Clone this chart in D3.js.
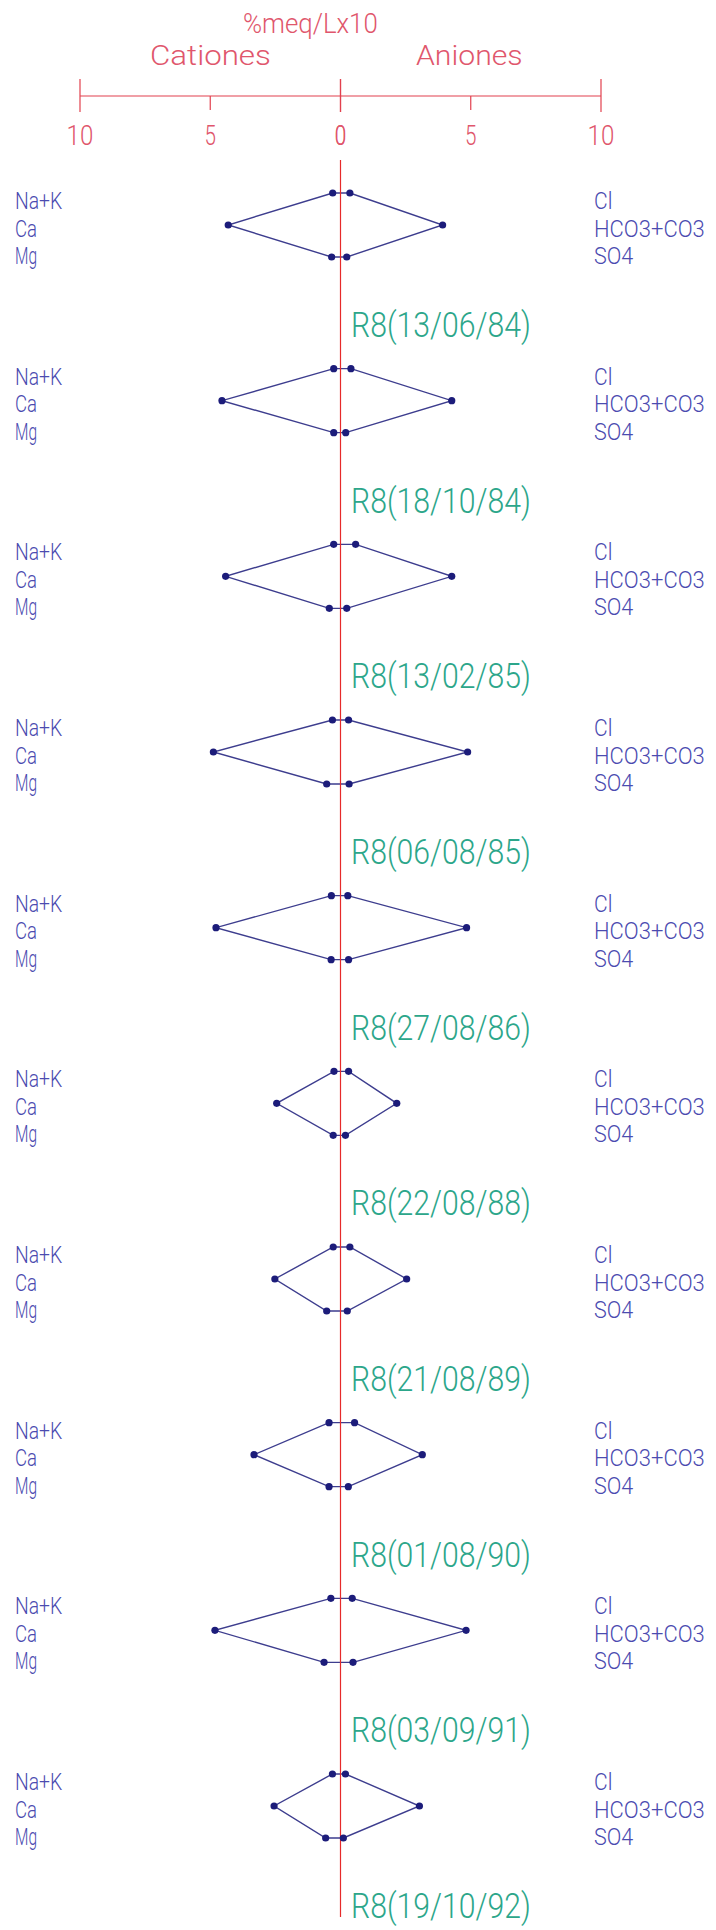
<!DOCTYPE html>
<html>
<head>
<meta charset="utf-8">
<script src="https://cdn.jsdelivr.net/npm/d3@7"></script>
<style>
  html, body { margin: 0; padding: 0; background: #fff; }
  text { font-family: Roboto, "DejaVu Sans", sans-serif; font-weight: 300; }
</style>
</head>
<body>
<div id="stiff"></div>
<script>
// samples, one stiff diagram each (label goes below its diagram)
var samples = ["R8(13/06/84)", "R8(18/10/84)", "R8(13/02/85)", "R8(06/08/85)", "R8(27/08/86)",
               "R8(22/08/88)", "R8(21/08/89)", "R8(01/08/90)", "R8(03/09/91)", "R8(19/10/92)"];

var cationNames = ["Na+K", "Ca", "Mg"];
var anionNames = ["Cl", "HCO3+CO3", "SO4"];

// %meq/L x10
var naK  = [0.30, 0.26, 0.26, 0.31, 0.35, 0.25, 0.28, 0.44, 0.37, 0.31];
var ca   = [4.31, 4.55, 4.41, 4.88, 4.78, 2.45, 2.52, 3.32, 4.82, 2.55];
var mg   = [0.34, 0.26, 0.43, 0.53, 0.36, 0.28, 0.53, 0.44, 0.63, 0.57];
var cl   = [0.36, 0.40, 0.58, 0.31, 0.28, 0.31, 0.36, 0.54, 0.45, 0.19];
var hco3 = [3.92, 4.27, 4.27, 4.88, 4.84, 2.16, 2.54, 3.14, 4.82, 3.03];
var so4  = [0.24, 0.20, 0.24, 0.33, 0.31, 0.19, 0.26, 0.30, 0.48, 0.11];

var axisTicks = [0, 5, 10];

document.addEventListener('DOMContentLoaded', function() {
    drawStiff()
}, false);

// plotter lettering: fixed pitch, so squeeze each string to n chars
function plotText(g, str, x, y, size, pitch, color, anchor) {
    return g.append("text")
      .attr("x", x)
      .attr("y", y)
      .attr("font-size", size)
      .attr("fill", color)
      .attr("text-anchor", anchor || "start")
      .attr("textLength", str.length * pitch - pitch * 0.25)
      .attr("lengthAdjust", "spacingAndGlyphs")
      .text(str);
}

function drawStiff() {
    var width = 716, height = 1930;
    var axisRed = "#e2404e", textRed = "#e0566c";
    var blue = "#4b4bb0", lineBlue = "#3d3d8e", dotBlue = "#1c1c7a", green = "#2ca68a";

    var svg = d3.select("#stiff")
      .append("svg")
        .attr("width", width)
        .attr("height", height);

    // x: cations to the left, anions to the right
    var x0 = 340.5;
    var xCat = d3.scaleLinear().domain([0, 10]).range([x0, 80]);
    var xAn = d3.scaleLinear().domain([0, 10]).range([x0, 601]);

    // y: one band per sample, three ion rows inside it
    var yTop = d3.scalePoint().domain(samples).range([193, 1774]);
    var yRow = d3.scalePoint().domain([0, 1, 2]).range([0, 64]);

    // top scale
    var axisY = 96;
    var top = svg.append("g");
    plotText(top, "%meq/Lx10", 243, 33, 28, 15.4, textRed);
    plotText(top, "Cationes", 150, 65, 28, 15.6, textRed);
    plotText(top, "Aniones", 416, 65, 28, 15.8, textRed);

    top.append("line")
      .attr("x1", xCat(10)).attr("x2", xAn(10))
      .attr("y1", axisY).attr("y2", axisY)
      .attr("stroke", axisRed).attr("stroke-width", 1.2);

    [xCat, xAn].forEach(function(sc) {
        axisTicks.forEach(function(t) {
            var big = (t !== 5);
            top.append("line")
              .attr("x1", sc(t)).attr("x2", sc(t))
              .attr("y1", big ? 79 : axisY).attr("y2", big ? 112 : 110)
              .attr("stroke", axisRed).attr("stroke-width", 1.2);
            plotText(top, String(t), sc(t), 145, 27, 15.3, textRed, "middle");
        });
    });

    var polys = svg.append("g");

    var line = d3.line()
      .x(function(d) { return d[0]; })
      .y(function(d) { return d[1]; })
      .curve(d3.curveLinearClosed);

    samples.forEach(function(s, i) {
        var t = yTop(s);
        var pts = [
          [xCat(naK[i]), t + yRow(0)],
          [xAn(cl[i]), t + yRow(0)],
          [xAn(hco3[i]), t + yRow(1)],
          [xAn(so4[i]), t + yRow(2)],
          [xCat(mg[i]), t + yRow(2)],
          [xCat(ca[i]), t + yRow(1)]
        ];
        polys.append("path")
          .attr("d", line(pts))
          .attr("fill", "none")
          .attr("stroke", lineBlue)
          .attr("stroke-width", 1.4);

        cationNames.forEach(function(n, k) {
            plotText(polys, n, 15, t + 16 + k * 27.5, 23, 12.6, blue);
        });
        anionNames.forEach(function(n, k) {
            plotText(polys, n, 594, t + 16 + k * 27.5, 23, n === "Cl" ? 10.5 : 14.3, blue);
        });
        plotText(polys, s, 351, t + 144, 35, 15.3, green);
    });

    // zero line down through all diagrams
    svg.append("line")
      .attr("x1", x0).attr("x2", x0)
      .attr("y1", 160).attr("y2", 1917)
      .attr("stroke", "#e62a2a").attr("stroke-width", 1.2);

    // vertices
    samples.forEach(function(s, i) {
        var t = yTop(s);
        var pts = [
          [xCat(naK[i]), t + yRow(0)], [xAn(cl[i]), t + yRow(0)],
          [xAn(hco3[i]), t + yRow(1)], [xAn(so4[i]), t + yRow(2)],
          [xCat(mg[i]), t + yRow(2)], [xCat(ca[i]), t + yRow(1)]
        ];
        svg.append("g").selectAll("circle")
          .data(pts)
          .enter()
          .append("circle")
            .attr("cx", function(d) { return d[0]; })
            .attr("cy", function(d) { return d[1]; })
            .attr("r", 3.6)
            .attr("fill", dotBlue);
    });
}
</script>
</body>
</html>
